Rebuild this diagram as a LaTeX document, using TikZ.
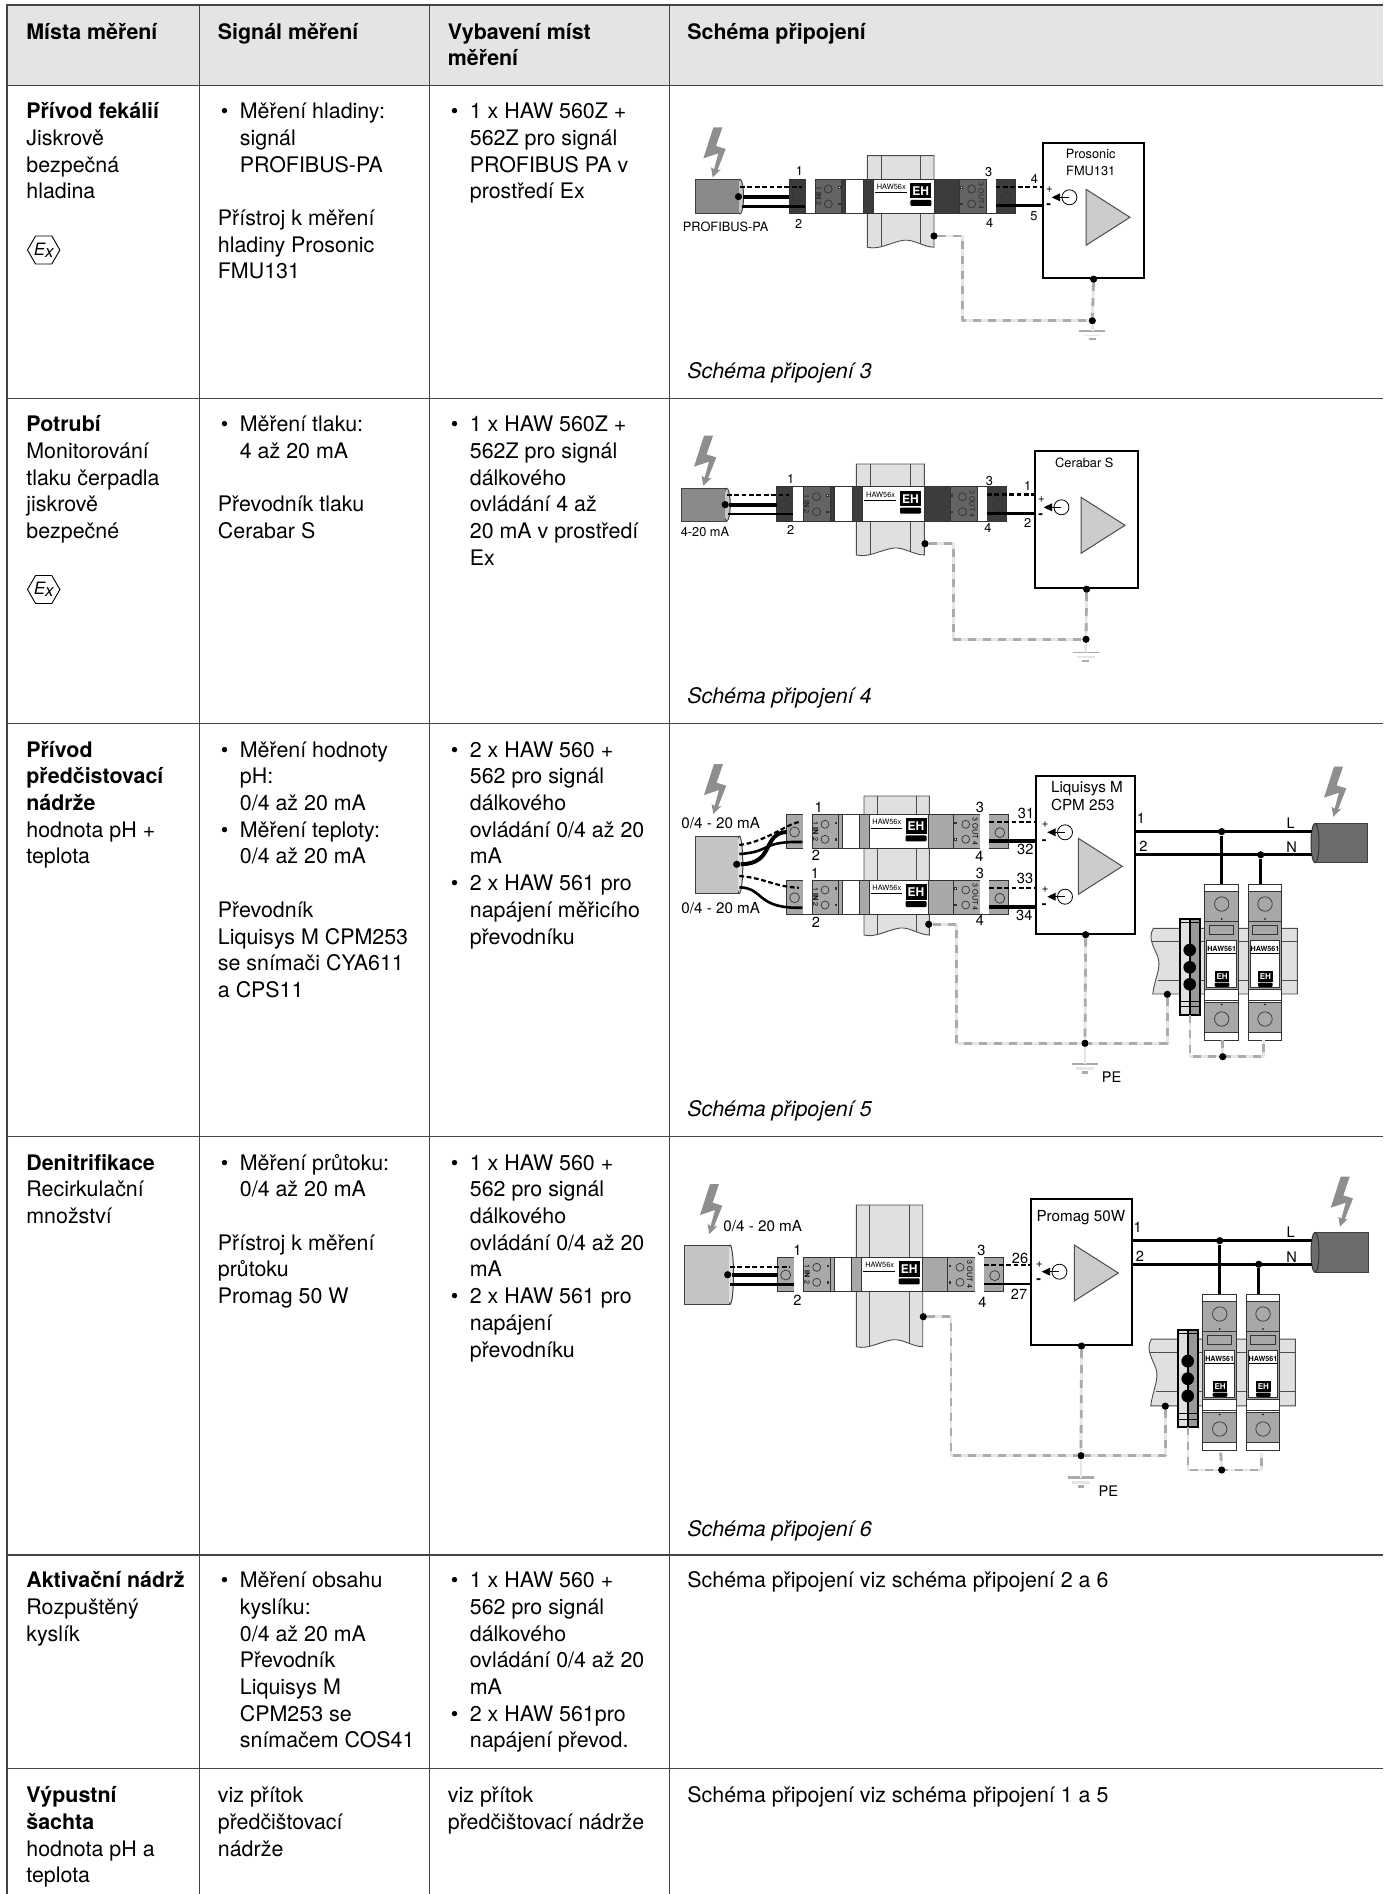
\documentclass[tikz,border=0pt]{standalone}
\usepackage{fontspec}
\setmainfont{TeX Gyre Heros}
\usetikzlibrary{shapes.geometric}
\pgfdeclarelayer{dots}
\pgfsetlayers{main,dots}
\definecolor{headgrey}{HTML}{E4E4E4}
\definecolor{ruleline}{HTML}{444444}
\definecolor{railgrey}{HTML}{E0E0E0}
\definecolor{boltgrey}{HTML}{8E8E8E}
\definecolor{stripdark}{HTML}{3C3C3C}
\definecolor{stripmid}{HTML}{646464}
\definecolor{striplite}{HTML}{A8A8A8}
\definecolor{cabledark}{HTML}{8A8A8A}
\definecolor{cablelite}{HTML}{C4C4C4}
\definecolor{cablemains}{HTML}{6C6C6C}
\definecolor{earthlight}{HTML}{E6E6E6}
\definecolor{earthgrey}{HTML}{ABABAB}
\newcommand\bul{\makebox[11pt][l]{\hspace{1.5pt}\textbullet}}
\newcommand\ind{\hspace*{11pt}}
\tikzset{
  celltext/.style={anchor=north west,inner sep=0pt,align=left,font=\fontsize{10.7}{13.35}\selectfont},
  captext/.style={anchor=west,inner sep=0pt,font=\fontsize{10.7}{13.35}\selectfont\itshape},
  exsign/.style={regular polygon,regular polygon sides=6,draw,inner sep=0pt,minimum size=16pt,line width=.45pt,font=\fontsize{8.5}{9}\selectfont\itshape},
  tinylabel/.style={inner sep=0pt,font=\fontsize{6.4}{8.3}\selectfont},
  smalllabel/.style={inner sep=0pt,font=\fontsize{7.3}{9}\selectfont},
  titlelabel/.style={inner sep=0pt,align=left,font=\fontsize{7.6}{9}\selectfont},
  stripline/.style={draw=black!80,line width=.35pt},
  railline/.style={draw=black!70,line width=.45pt},
  devicebox/.style={draw,fill=white,line width=1pt,anchor=north west,inner sep=0pt},
  wiredot/.style={circle,fill=black,inner sep=0pt,minimum size=3.6pt},
  dashwire/.style={line width=1.1pt,dash pattern=on 2.4pt off 1.3pt},
  thickwire/.style={line width=2pt},
  medwire/.style={line width=1.3pt},
  mainswire/.style={line width=1.5pt},
  earthwire/.style={draw=earthlight,line width=1.4pt,line join=round,postaction={draw=earthgrey,dash pattern=on 4pt off 3.5pt}},
  pics/bolt/.style={code={
    \fill[boltgrey] (0.7,-50) -- (9.7,-50) -- (3.3,-31.3) -- (13,-28.3) -- (4.7,-7.3) -- (8,-8) -- (0,0) -- (-1.7,-10) -- (1.3,-8) -- (5.7,-24) -- (-9.3,-19) -- cycle;
  }},
  pics/cableleft/.style n args={3}{code={
    \draw[draw=black!75,line width=.5pt,fill=#3!50] (#1,#2*0.5) ellipse [x radius=3.5,y radius=#2*0.5];
    \fill[#3] (0,0) rectangle (#1-1.5,#2);
    \draw[draw=black!75,line width=.5pt] (#1,0) -- (0,0) -- (0,#2) -- (#1,#2);
    \coordinate (-a) at (#1,#2*0.215);
    \coordinate (-b) at (#1-1.5,#2*0.5);
    \coordinate (-c) at (#1+1.5,#2*0.79);
  }},
  pics/cableright/.style n args={3}{code={
    \fill[#3] (5,0) rectangle (#1,#2);
    \draw[draw=black!75,line width=.5pt] (5,0) -- (#1,0) -- (#1,#2) -- (5,#2);
    \draw[draw=black!80,line width=.5pt,fill=#3] (5,#2*0.5) ellipse [x radius=4,y radius=#2*0.5];
    \coordinate (-l) at (2,#2*0.21);
    \coordinate (-n) at (2,#2*0.8);
  }},
  pics/hawrail/.style 2 args={code={
    \draw[railline,fill=railgrey] (0,0) -- (#1,0) -- (#1,#2) .. controls (#1*0.85,#2) and (#1*0.7,#2-8) .. (#1*0.55,#2-7) .. controls (#1*0.35,#2-5) and (#1*0.18,#2+3) .. (0,#2) -- cycle;
    \draw[railline] (#1*0.205,0) -- (#1*0.205,#2);
    \draw[railline] (#1*0.8,0) -- (#1*0.8,#2-3);
  }},
  pics/ehlogo/.style={code={
    \fill[black] (0,0) rectangle (21,15.5);
    \fill[black,rounded corners=.5pt] (0,17) rectangle (21,23);
    \node[inner sep=0pt,text=white,font=\bfseries\fontsize{#1}{#1}\selectfont] at (10.5,8) {EH};
  }},
  pics/hawstrip/.style n args={3}{code={
    \draw[stripline,fill=#1] (0,0) rectangle (225.7,34.3);
    \draw[stripline,fill=#2] (25.7,0) rectangle (52.3,34.3);
    \draw[stripline,fill=#2] (170,0) rectangle (197.3,34.3);
    \fill[white] (16.3,0) rectangle (25.7,34.3);
    \fill[white] (197.3,0) rectangle (206.3,34.3);
    \draw[stripline,fill=white] (56.3,0) rectangle (74,34.3);
    \draw[stripline,fill=white] (84,0) rectangle (144.7,34.3);
    \draw[stripline] (8,17.7) circle [radius=5] (217,18.3) circle [radius=5];
    \draw[stripline] (39,10) circle [radius=4] (39,25) circle [radius=4];
    \draw[stripline] (182.3,10) circle [radius=4] (182.3,25) circle [radius=4];
    \draw[stripline,fill=white] (49.2,7.8) rectangle (50.8,9.4) (49.2,24.2) rectangle (50.8,25.8);
    \draw[stripline,fill=white] (171.2,7.8) rectangle (172.8,9.4) (171.2,24.2) rectangle (172.8,25.8);
    \node[inner sep=0pt,rotate=-90,text=#3,font=\fontsize{3.6}{4}\selectfont] at (29.5,17.2) {1 \textbf{IN} 2};
    \node[inner sep=0pt,rotate=-90,text=#3,font=\fontsize{3.6}{4}\selectfont] at (192,17.2) {3 OUT 4};
    \node[inner sep=0pt,font=\fontsize{3.7}{4}\selectfont] at (102,8) {HAW56x};
    \draw[line width=.3pt] (85.7,13.7) -- (117.5,13.7);
    \pic at (121,4) {ehlogo=6};
    \coordinate (-da) at (12.4,7.7);
    \coordinate (-th) at (0,17.7);
    \coordinate (-lo) at (16,27.7);
    \coordinate (-dr) at (206.3,7.7);
    \coordinate (-sr) at (206.3,26.5);
  }},
  pics/srcsign/.style={code={
    \fill[black] (0,0) -- (8.3,-4) -- (8.3,4) -- cycle;
    \draw[line width=.4pt] (8,0) -- (17.7,0);
    \draw[line width=.4pt] (17.7,0) circle [radius=7.5];
    \node[inner sep=0pt,font=\fontsize{6}{7}\selectfont] at (-2.3,-7.3) {+};
    \node[inner sep=0pt,font=\bfseries\fontsize{7}{7}\selectfont] at (-3,9.3) {-};
  }},
  pics/ampsign/.style={code={
    \draw[draw=black!70,line width=.5pt,fill=black!20] (0,0) -- (44,28) -- (0,56) -- cycle;
  }},
  pics/earthsign/.style={code={
    \draw[earthgrey,line width=#1 pt] (-13,0) -- (13,0);
    \draw[earthlight,line width=#1 pt] (-9,4.7) -- (9,4.7);
    \draw[earthgrey,line width=#1 pt] (-3.3,8.5) -- (3.3,8.5);
    \coordinate (-top) at (0,0);
  }},
  pics/hawmains/.style={code={
    \draw[stripline,fill=white] (0,0) rectangle (33.7,156);
    \draw[stripline,fill=striplite] (0,7.7) rectangle (33.7,37.7);
    \draw[stripline,fill=striplite] (0,37.7) rectangle (33.7,105);
    \draw[stripline,fill=white] (2,56) rectangle (31.7,103.3);
    \draw[stripline,fill=white] (0,105) rectangle (33.7,116.7);
    \draw[stripline,fill=striplite] (0,118.7) rectangle (33.7,148.7);
    \draw[stripline,line width=.5pt] (4.7,41) rectangle (29,50.3);
    \draw[stripline] (17,20) circle [radius=7.2] (17,135) circle [radius=7.2];
    \fill[black] (17,35) circle [radius=.9] (17,120.5) circle [radius=.9];
    \node[inner sep=0pt,font=\bfseries\fontsize{3.6}{4}\selectfont] at (17,64.7) {HAW561};
    \draw[line width=.3pt] (2.5,69.3) -- (31.5,69.3);
    \pic[scale=.7] at (10,86.7) {ehlogo=4};
  }},
  pics/mainsgroup/.style={code={
    \draw[railline,fill=railgrey] (-51.3,44.3) -- (92.7,44.3) -- (92.7,110) -- (-52,110) .. controls (-50,95) and (-44,85) .. (-46.3,75) .. controls (-49,65) and (-58,55) .. cycle;
    \draw[railline] (-53,57.7) -- (92.7,57.7);
    \draw[railline] (-47,96) -- (92.7,96);
    \fill[railgrey] (-24.7,35) rectangle (-14.7,131);
    \fill[black!40] (-14.7,35) rectangle (-4.7,131);
    \draw[line width=.3pt] (-24.7,38.5) -- (-4.7,38.5) (-24.7,117.7) -- (-4.7,117.7) (-24.7,122.7) -- (-4.7,122.7);
    \draw[line width=.9pt] (-14.7,35) -- (-14.7,131);
    \draw[line width=.9pt] (-24.7,35) rectangle (-4.7,131);
    \fill[black] (-15,66) circle [radius=6.3] (-15,83.3) circle [radius=6.3] (-15,100.3) circle [radius=6.3];
    \pic at (0,0) {hawmains};
    \pic at (43.3,0) {hawmains};
    \coordinate (-m1top) at (17,0);
    \coordinate (-m2top) at (56,0);
    \coordinate (-m1bot) at (18,156);
    \coordinate (-m2bot) at (58.6,156);
    \coordinate (-clampbot) at (-14.7,131);
    \coordinate (-railpt) at (-37.4,110.3);
  }},
}
\begin{document}
\begin{tikzpicture}[x=0.5pt,y=-0.5pt]
  \useasboundingbox (0,0) rectangle (1383,1894);
  % table
  \fill[headgrey] (7,5) rectangle (1383,85.5);
  \draw[ruleline,line width=.65pt] (1383,5) -- (7,5) -- (7,1894);
  \draw[ruleline,line width=.65pt] (199.5,5) -- (199.5,1894);
  \draw[ruleline,line width=.65pt] (429.5,5) -- (429.5,1894);
  \draw[ruleline,line width=.65pt] (669.5,5) -- (669.5,1894);
  \draw[ruleline,line width=.65pt] (7,85.5) -- (1383,85.5);
  \draw[ruleline,line width=.65pt] (7,398.5) -- (1383,398.5);
  \draw[ruleline,line width=.65pt] (7,723.5) -- (1383,723.5);
  \draw[ruleline,line width=.65pt] (7,1136.5) -- (1383,1136.5);
  \draw[ruleline,line width=.65pt] (7,1555) -- (1383,1555);
  \draw[ruleline,line width=.65pt] (7,1768.7) -- (1383,1768.7);
  \node[celltext] (h1) at (26,20) {\strut\textbf{Místa měření}};
  \node[celltext] (h2) at (217.5,20) {\strut\textbf{Signál měření}};
  \node[celltext] (h3) at (447.5,20) {\strut\textbf{Vybavení míst}\\\textbf{měření}};
  \node[celltext] (h4) at (687,20) {\strut\textbf{Schéma připojení}};
  % row 1
  \node[celltext] (a1) at (26,99.6) {\strut\textbf{Přívod fekálií}\\Jiskrově\\bezpečná\\hladina};
  \node[exsign] (ex1) at (43.7,250) {E\raisebox{-1pt}{x}};
  \node[celltext] (b1) at (217.5,99.6) {\strut\bul Měření hladiny:\\\ind signál\\\ind PROFIBUS-PA\\[13.35pt]Přístroj k měření\\hladiny Prosonic\\FMU131};
  \node[celltext] (c1) at (447.5,99.6) {\strut\bul 1 x HAW 560Z +\\\ind 562Z pro signál\\\ind PROFIBUS PA v\\\ind prostředí Ex};
  \node[captext] (s1) at (687,373.2) {Schéma připojení 3};
  % row 2
  \node[celltext] (a2) at (26,412.6) {\strut\textbf{Potrubí}\\Monitorování\\tlaku čerpadla\\jiskrově\\bezpečné};
  \node[exsign] (ex2) at (43.7,589.5) {E\raisebox{-1pt}{x}};
  \node[celltext] (b2) at (217.5,412.6) {\strut\bul Měření tlaku:\\\ind 4 až 20 mA\\[13.35pt]Převodník tlaku\\Cerabar S};
  \node[celltext] (c2) at (447.5,412.6) {\strut\bul 1 x HAW 560Z +\\\ind 562Z pro signál\\\ind dálkového\\\ind ovládání 4 až\\\ind 20 mA v prostředí\\\ind Ex};
  \node[captext] (s2) at (687,698.2) {Schéma připojení 4};
  % row 3
  \node[celltext] (a3) at (26,738) {\strut\textbf{Přívod}\\\textbf{předčistovací}\\\textbf{nádrže}\\hodnota pH +\\teplota};
  \node[celltext] (b3) at (217.5,738) {\strut\bul Měření hodnoty\\\ind pH:\\\ind 0/4 až 20 mA\\\bul Měření teploty:\\\ind 0/4 až 20 mA\\[13.35pt]Převodník\\Liquisys M CPM253\\se snímači CYA611\\a CPS11};
  \node[celltext] (c3) at (447.5,738) {\strut\bul 2 x HAW 560 +\\\ind 562 pro signál\\\ind dálkového\\\ind ovládání 0/4 až 20\\\ind mA\\\bul 2 x HAW 561 pro\\\ind napájení měřicího\\\ind převodníku};
  \node[captext] (s3) at (687,1111.3) {Schéma připojení 5};
  % row 4
  \node[celltext] (a4) at (26,1151) {\strut\textbf{Denitrifikace}\\Recirkulační\\množství};
  \node[celltext] (b4) at (217.5,1151) {\strut\bul Měření průtoku:\\\ind 0/4 až 20 mA\\[13.35pt]Přístroj k měření\\průtoku\\Promag 50 W};
  \node[celltext] (c4) at (447.5,1151) {\strut\bul 1 x HAW 560 +\\\ind 562 pro signál\\\ind dálkového\\\ind ovládání 0/4 až 20\\\ind mA\\\bul 2 x HAW 561 pro\\\ind napájení\\\ind převodníku};
  \node[captext] (s4) at (687,1530.4) {Schéma připojení 6};
  % row 5
  \node[celltext] (a5) at (26,1568.6) {\strut\textbf{Aktivační nádrž}\\Rozpuštěný\\kyslík};
  \node[celltext] (b5) at (217.5,1568.6) {\strut\bul Měření obsahu\\\ind kyslíku:\\\ind 0/4 až 20 mA\\\ind Převodník\\\ind Liquisys M\\\ind CPM253 se\\\ind snímačem COS41};
  \node[celltext] (c5) at (447.5,1568.6) {\strut\bul 1 x HAW 560 +\\\ind 562 pro signál\\\ind dálkového\\\ind ovládání 0/4 až 20\\\ind mA\\\bul 2 x HAW 561pro\\\ind napájení převod.};
  \node[celltext] (d5) at (687,1568.6) {\strut Schéma připojení viz schéma připojení 2 a 6};
  % row 6
  \node[celltext] (a6) at (26,1783.6) {\strut\textbf{Výpustní}\\\textbf{šachta}\\hodnota pH a\\teplota};
  \node[celltext] (b6) at (217.5,1783.6) {\strut viz přítok\\předčištovací\\nádrže};
  \node[celltext] (c6) at (447.5,1783.6) {\strut viz přítok\\předčištovací nádrže};
  \node[celltext] (d6) at (687,1783.6) {\strut Schéma připojení viz schéma připojení 1 a 5};

  % scheme 3
  \pic at (867.3,155.7) {hawrail={66.7}{91.5}};
  \pic (ca) at (695.7,179.3) {cableleft={44.3}{34.7}{cabledark}};
  \pic (sa) at (789.3,179) {hawstrip={stripdark}{stripmid}{black!85}};
  \pic at (712.7,177.3) {bolt};
  \node[devicebox,minimum width=50.6pt,minimum height=67.6pt] (fmu) at (1042,142) {};
  \pic at (1086,189.3) {ampsign};
  \pic at (1051.7,197.3) {srcsign};
  \node[tinylabel,align=center] (fmut) at (1090.7,162.6) {Prosonic\\FMU131};
  \node[tinylabel] (pb) at (725.7,226.7) {PROFIBUS-PA};
  \node[tinylabel] (la1) at (799.3,170.7) {1};
  \node[tinylabel] (la2) at (798.7,224.3) {2};
  \node[tinylabel] (la3) at (988.7,171.7) {3};
  \node[tinylabel] (la4) at (989.7,223.3) {4};
  \node[tinylabel] (la5) at (1034.3,179) {4};
  \node[tinylabel] (la6) at (1034,215.7) {5};
  \begin{pgfonlayer}{dots}
    \node[wiredot] (da) at (ca-b) {};
    \node[wiredot] (ra) at (934,236) {};
    \node[wiredot] (ha) at (1092.3,320.7) {};
    \node[wiredot] (ba) at (fmu.south) {};
  \end{pgfonlayer}
  \draw[dashwire] (ca-a) -- (ca-a -| sa-da);
  \draw[thickwire] (da) -- (da -| sa-th);
  \draw[medwire] (ca-c) -- (ca-c -| sa-lo);
  \draw[dashwire] (sa-dr) -- (sa-dr -| fmu.west);
  \draw[medwire] (sa-sr) -- (sa-sr -| fmu.west);
  \pic (ga) at (1092.3,330.7) {earthsign=.8};
  \coordinate (ka) at (962.7,320.7);
  \draw[earthwire] (ra) -| (ka) -- (ha);
  \draw[earthwire] (ba) -- (ha);
  \draw[earthlight,line width=1.4pt] (ha) -- (ga-top);

  % scheme 4
  \pic at (856.3,464) {hawrail={68}{91}};
  \pic (cb) at (681,488.3) {cableleft={45.7}{32.7}{cabledark}};
  \pic[xscale=1.019] (sb) at (776.7,486.7) {hawstrip={stripdark}{stripmid}{black!85}};
  \pic at (703.3,485.7) {bolt};
  \node[devicebox,minimum width=51.6pt,minimum height=68.6pt] (cer) at (1034,450) {};
  \pic at (1081,497.3) {ampsign};
  \pic at (1043.7,507.3) {srcsign};
  \node[tinylabel] (cert) at (1084.3,463.3) {Cerabar S};
  \node[tinylabel] (ma) at (705,531.7) {4-20 mA};
  \node[tinylabel] (lb1) at (790.7,479) {1};
  \node[tinylabel] (lb2) at (790.7,530) {2};
  \node[tinylabel] (lb3) at (989.3,481) {3};
  \node[tinylabel] (lb4) at (988,528.3) {4};
  \node[tinylabel] (lb5) at (1027.7,486) {1};
  \node[tinylabel] (lb6) at (1027.7,522.7) {2};
  \begin{pgfonlayer}{dots}
    \node[wiredot] (db) at (cb-b) {};
    \node[wiredot] (rb) at (925,543.7) {};
    \node[wiredot] (hb) at (1086,639.3) {};
    \node[wiredot] (bb) at (cer.south) {};
  \end{pgfonlayer}
  \draw[dashwire] (cb-a) -- (cb-a -| sb-da);
  \draw[thickwire] (db) -- (db -| sb-th);
  \draw[medwire] (cb-c) -- (cb-c -| sb-lo);
  \draw[dashwire] (sb-dr) -- (sb-dr -| cer.west);
  \draw[medwire] (sb-sr) -- (sb-sr -| cer.west);
  \pic (gb) at (1085.7,652.3) {earthsign=.8};
  \coordinate (kb) at (953.3,639.3);
  \draw[earthwire] (rb) -| (kb) -- (hb);
  \draw[earthwire] (bb) -- (hb);
  \draw[earthlight,line width=1.4pt] (hb) -- (gb-top);

  % scheme 5
  \pic at (864,796) {hawrail={65.3}{139}};
  \pic (cc) at (695.3,836) {cableleft={44}{57.3}{cablelite}};
  \pic[xscale=.982] (sc) at (786.7,814.3) {hawstrip={striplite}{striplite}{black}};
  \pic[xscale=.982] (sd) at (786.7,880) {hawstrip={striplite}{striplite}{black}};
  \pic at (713.3,814) {bolt};
  \node[devicebox,minimum width=49.65pt,minimum height=78.85pt] (lq) at (1035,775) {};
  \pic at (1078.3,838.3) {ampsign};
  \pic at (1047.3,832.3) {srcsign};
  \pic at (1047.3,896.7) {srcsign};
  \node[titlelabel,anchor=north west] (lqt) at (1050.7,781) {Liquisys M\\CPM 253};
  \node[titlelabel] (mc1) at (720.7,822.7) {0/4 - 20 mA};
  \node[titlelabel] (mc2) at (720.7,908.3) {0/4 - 20 mA};
  \node[smalllabel] (lc1) at (818.7,807.3) {1};
  \node[smalllabel] (lc2) at (816,855.3) {2};
  \node[smalllabel] (lc3) at (980,807.3) {3};
  \node[smalllabel] (lc4) at (979.3,856) {4};
  \node[smalllabel] (ld1) at (815,873.3) {1};
  \node[smalllabel] (ld2) at (816,922.7) {2};
  \node[smalllabel] (ld3) at (980,873.3) {3};
  \node[smalllabel] (ld4) at (980,920.7) {4};
  \node[smalllabel] (lc5) at (1026,813.3) {31};
  \node[smalllabel] (lc6) at (1025.3,849.3) {32};
  \node[smalllabel] (ld5) at (1025,878.3) {33};
  \node[smalllabel] (ld6) at (1024.3,915.7) {34};
  \node[smalllabel] (lq1) at (1141,818.3) {1};
  \node[smalllabel] (lq2) at (1143.3,846) {2};
  \node[smalllabel] (ll1) at (1290.7,822.7) {L};
  \node[smalllabel] (ln1) at (1291.7,847.3) {N};
  \coordinate (ce1) at (739.3,845);
  \coordinate (ce2) at (739.3,854);
  \coordinate (ce3) at (739.3,876);
  \coordinate (ce4) at (739.3,887.3);
  \pic (me) at (1204.7,884) {mainsgroup};
  \pic (ce) at (1310,823.3) {cableright={57.7}{39.4}{cablemains}};
  \pic at (1333.3,816.7) {bolt};
  \pic (gc) at (1085,1064) {earthsign=1.4};
  \begin{pgfonlayer}{dots}
    \node[wiredot] (dc) at (736.7,864.3) {};
    \node[wiredot] (le) at (me-m1top |- ce-l) {};
    \node[wiredot] (ne) at (me-m2top |- ce-n) {};
    \node[wiredot] (rc) at (928.7,924.3) {};
    \node[wiredot] (hc) at (1085,1043.3) {};
    \node[wiredot] (bc) at (1222.7,1056.7) {};
    \node[wiredot] (tc) at (lq.south) {};
    \node[wiredot] (uc) at (me-railpt) {};
  \end{pgfonlayer}
  \draw[dashwire] (ce1) .. controls (765,842) and (785,825) .. (sc-da);
  \draw[thickwire] (dc) .. controls (775,864) and (762,833) .. (sc-th);
  \draw[medwire] (ce2) .. controls (772,852) and (760,841) .. (sc-lo);
  \draw[dashwire] (ce3) .. controls (765,878) and (775,887) .. (sd-da);
  \draw[medwire] (ce4) .. controls (765,888) and (755,909) .. (sd-lo);
  \draw[dashwire] (sc-dr) -- (sc-dr -| lq.west);
  \draw[thickwire] (sc-sr) -- (sc-sr -| lq.west);
  \draw[dashwire] (sd-dr) -- (sd-dr -| lq.west);
  \draw[thickwire] (sd-sr) -- (sd-sr -| lq.west);
  \draw[mainswire] (le -| lq.east) -- (ce-l);
  \draw[mainswire] (ne -| lq.east) -- (ce-n);
  \draw[mainswire] (le) -- (me-m1top);
  \draw[mainswire] (ne) -- (me-m2top);
  \coordinate (kc) at (956.7,1043.3);
  \draw[earthwire] (rc) -| (kc) -- (hc);
  \draw[earthwire] (uc) |- (hc);
  \draw[earthwire] (tc) -- (hc);
  \draw[earthlight,line width=1.4pt] (hc) -- (gc-top);
  \draw[earthwire] (me-clampbot) -- (me-clampbot |- bc) -- (me-m2bot |- bc) -- (me-m2bot);
  \draw[earthwire] (me-m1bot) -- (bc);
  \node[smalllabel] (pe1) at (1111.7,1077.3) {PE};

  % scheme 6
  \pic at (856.3,1205) {hawrail={66.4}{141.7}};
  \pic (cf) at (684.7,1245) {cableleft={45.3}{59.3}{cablelite}};
  \pic (sf) at (777.7,1257.3) {hawstrip={striplite}{striplite}{black}};
  \pic at (709.3,1234) {bolt};
  \node[devicebox,minimum width=50.5pt,minimum height=72.85pt] (pm) at (1030,1198.3) {};
  \pic at (1074.3,1245) {ampsign};
  \pic at (1041.7,1271.7) {srcsign};
  \node[titlelabel] (pmt) at (1080.8,1217.7) {Promag 50W};
  \node[titlelabel] (mf) at (762.7,1226) {0/4 - 20 mA};
  \node[smalllabel] (lf1) at (797.3,1250) {1};
  \node[smalllabel] (lf2) at (797.3,1300) {2};
  \node[smalllabel] (lf3) at (981.3,1250) {3};
  \node[smalllabel] (lf4) at (982.3,1302) {4};
  \node[smalllabel] (lf5) at (1020,1258.7) {26};
  \node[smalllabel] (lf6) at (1019,1294) {27};
  \node[smalllabel] (pm1) at (1137.7,1227.3) {1};
  \node[smalllabel] (pm2) at (1140,1256) {2};
  \node[smalllabel] (ll2) at (1290.7,1232.3) {L};
  \node[smalllabel] (ln2) at (1291.7,1257.3) {N};
  \coordinate (fa) at (730,1266.7);
  \coordinate (fb) at (730,1284.3);
  \pic[yscale=1.017] (mg) at (1202.7,1294) {mainsgroup};
  \pic (cg) at (1310,1232.3) {cableright={58.3}{40}{cablemains}};
  \pic at (1340,1226.7) {bolt};
  \pic (gf) at (1081,1477.7) {earthsign=1.4};
  \begin{pgfonlayer}{dots}
    \node[wiredot] (df) at (727.7,1274.7) {};
    \node[wiredot] (lg) at (mg-m1top |- cg-l) {};
    \node[wiredot] (ng) at (mg-m2top |- cg-n) {};
    \node[wiredot] (rf) at (923.3,1316.7) {};
    \node[wiredot] (hf) at (1081,1455.7) {};
    \node[wiredot] (bf) at (1221.7,1470) {};
    \node[wiredot] (tf) at (pm.south) {};
    \node[wiredot] (uf) at (mg-railpt) {};
  \end{pgfonlayer}
  \draw[dashwire] (fa) -- (fa -| sf-da);
  \draw[thickwire] (df) -- (df -| sf-th);
  \draw[medwire] (fb) -- (fb -| sf-lo);
  \draw[dashwire] (sf-dr) -- (sf-dr -| pm.west);
  \draw[medwire] (sf-sr) -- (sf-sr -| pm.west);
  \draw[mainswire] (lg -| pm.east) -- (cg-l);
  \draw[mainswire] (ng -| pm.east) -- (cg-n);
  \draw[mainswire] (lg) -- (mg-m1top);
  \draw[mainswire] (ng) -- (mg-m2top);
  \coordinate (kf) at (951,1455.7);
  \draw[earthwire] (rf) -| (kf) -- (hf);
  \draw[earthwire] (uf) |- (hf);
  \draw[earthwire] (tf) -- (hf);
  \draw[earthlight,line width=1.4pt] (hf) -- (gf-top);
  \draw[earthwire] (mg-clampbot) -- (mg-clampbot |- bf) -- (mg-m2bot |- bf) -- (mg-m2bot);
  \draw[earthwire] (mg-m1bot) -- (bf);
  \node[smalllabel] (pe2) at (1108.3,1491) {PE};
\end{tikzpicture}
\end{document}
